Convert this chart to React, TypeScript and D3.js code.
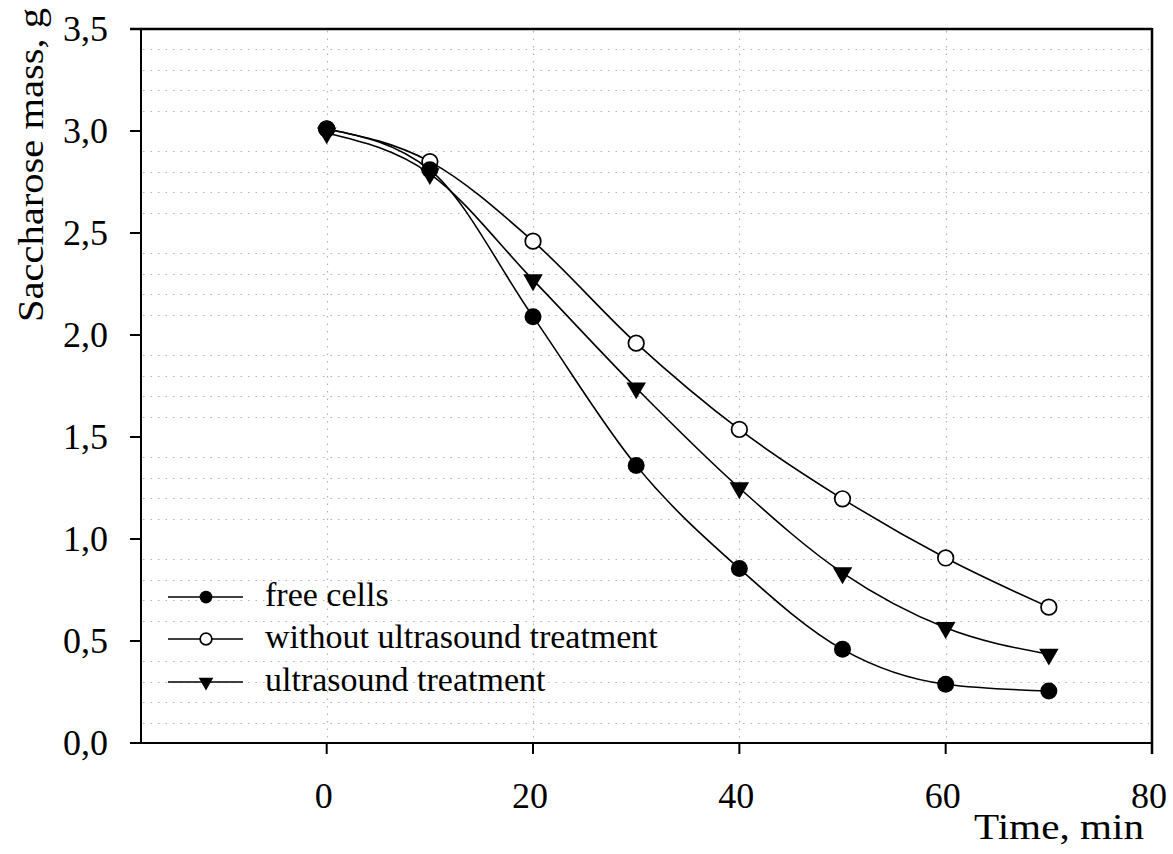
import React, { useEffect, useRef } from 'react';
import * as d3 from 'd3';

// time points, min
const times = [0, 10, 20, 30, 40, 50, 60, 70];
// saccharose mass, g
const freeCells = [3.01, 2.81, 2.09, 1.36, 0.855, 0.459, 0.288, 0.255];
const withoutUltrasound = [3.01, 2.85, 2.46, 1.96, 1.537, 1.197, 0.907, 0.666];
const ultrasound = [2.99, 2.79, 2.27, 1.74, 1.25, 0.834, 0.565, 0.435];

const seriesNames = ['free cells', 'without ultrasound treatment', 'ultrasound treatment'];
const xTicks = [0, 20, 40, 60, 80];
const yTicks = [0, 0.5, 1.0, 1.5, 2.0, 2.5, 3.0, 3.5];

const App = () => {
  const ref = useRef<SVGSVGElement>(null);

  useEffect(() => {
    const svg = d3.select(ref.current);
    svg.selectAll('*').remove();

    const left = 141, right = 1152, top = 29, bottom = 743;
    const font = '"Liberation Serif", "Times New Roman", serif';

    const x = d3.scaleLinear().domain([-18, 80]).range([left, right]);
    const y = d3.scaleLinear().domain([0, 3.5]).range([bottom, top]);

    // minor dotted grid (every 0.1 except the labelled values)
    const minor = d3.range(1, 35).filter(i => i % 5 !== 0).map(i => i / 10);
    svg.append('g')
      .selectAll('line')
      .data(minor)
      .join('line')
      .attr('x1', left + 2)
      .attr('x2', right - 3)
      .attr('y1', d => Math.round(y(d)) + 0.5)
      .attr('y2', d => Math.round(y(d)) + 0.5)
      .attr('stroke', '#b4b4b4')
      .attr('stroke-width', 1.2)
      .attr('stroke-dasharray', '1.5,6');

    svg.append('g')
      .selectAll('line')
      .data(xTicks.slice(0, -1))
      .join('line')
      .attr('x1', d => Math.round(x(d)) + 0.5)
      .attr('x2', d => Math.round(x(d)) + 0.5)
      .attr('y1', top + 2)
      .attr('y2', bottom - 2)
      .attr('stroke', '#b4b4b4')
      .attr('stroke-width', 1.2)
      .attr('stroke-dasharray', '1.5,6');

    // frame
    const frame = svg.append('g').attr('stroke', '#000').attr('fill', 'none');
    frame.append('line').attr('x1', left).attr('x2', left).attr('y1', top).attr('y2', bottom).attr('stroke-width', 2);
    frame.append('line').attr('x1', 130).attr('x2', right).attr('y1', bottom).attr('y2', bottom).attr('stroke-width', 2);
    frame.append('line').attr('x1', 130).attr('x2', right).attr('y1', top).attr('y2', top).attr('stroke-width', 2.5);
    frame.append('line').attr('x1', right).attr('x2', right).attr('y1', top - 1).attr('y2', bottom + 11).attr('stroke-width', 2.5);

    // y ticks
    frame.selectAll('.yt')
      .data(yTicks)
      .join('line')
      .attr('x1', 130)
      .attr('x2', left)
      .attr('y1', d => y(d))
      .attr('y2', d => y(d))
      .attr('stroke-width', 2);

    svg.append('g')
      .selectAll('text')
      .data(yTicks)
      .join('text')
      .attr('x', 108)
      .attr('y', d => y(d) + 12)
      .attr('text-anchor', 'end')
      .attr('font-family', font)
      .attr('font-size', 36)
      .text(d => d3.format('.1f')(d).replace('.', ','));

    // x ticks
    frame.selectAll('.xt')
      .data(xTicks)
      .join('line')
      .attr('x1', d => x(d))
      .attr('x2', d => x(d))
      .attr('y1', bottom)
      .attr('y2', bottom + 11)
      .attr('stroke-width', 2);

    svg.append('g')
      .selectAll('text')
      .data(xTicks)
      .join('text')
      .attr('x', d => x(d) - 3)
      .attr('y', 808)
      .attr('text-anchor', 'middle')
      .attr('font-family', font)
      .attr('font-size', 36)
      .text(d => d);

    // axis titles
    svg.append('text')
      .attr('transform', 'translate(43,165) rotate(-90)')
      .attr('text-anchor', 'middle')
      .attr('font-family', font)
      .attr('font-size', 36)
      .attr('textLength', 314)
      .attr('lengthAdjust', 'spacingAndGlyphs')
      .text('Saccharose mass, g');

    svg.append('text')
      .attr('x', 974)
      .attr('y', 839)
      .attr('font-family', font)
      .attr('font-size', 36)
      .attr('textLength', 170)
      .attr('lengthAdjust', 'spacingAndGlyphs')
      .text('Time, min');

    // series
    const series = [freeCells, withoutUltrasound, ultrasound];
    const line = d3.line<number>()
      .x((d, i) => x(times[i]))
      .y(d => y(d))
      .curve(d3.curveMonotoneX);

    series.forEach(values => {
      svg.append('path')
        .attr('d', line(values))
        .attr('fill', 'none')
        .attr('stroke', '#000')
        .attr('stroke-width', 1.6);
    });

    const tri = d3.symbol().type(d3.symbolTriangle);

    const drawMarker = (g, k, cx, cy, scale) => {
      if (k === 0) {
        g.append('circle').attr('cx', cx).attr('cy', cy).attr('r', 8.5 * scale).attr('fill', '#000');
      } else if (k === 1) {
        g.append('circle').attr('cx', cx).attr('cy', cy).attr('r', 7.8 * scale)
          .attr('fill', '#fff').attr('stroke', '#000').attr('stroke-width', 1.7);
      } else {
        g.append('path')
          .attr('d', tri.size(165 * scale * scale)())
          .attr('transform', `translate(${cx},${cy}) rotate(180)`)
          .attr('fill', '#000');
      }
    };

    const markers = svg.append('g');
    [1, 2, 0].forEach(k => {
      series[k].forEach((v, i) => drawMarker(markers, k, x(times[i]), y(v), 1));
    });

    // legend
    const legend = svg.append('g');
    const rowY = [597, 639, 682];
    seriesNames.forEach((name, k) => {
      legend.append('line')
        .attr('x1', 168).attr('x2', 243)
        .attr('y1', rowY[k]).attr('y2', rowY[k])
        .attr('stroke', '#000').attr('stroke-width', 1.6);
      drawMarker(legend, k, 206, rowY[k], 0.75);
      legend.append('text')
        .attr('x', 265)
        .attr('y', rowY[k] + 9)
        .attr('font-family', font)
        .attr('font-size', 34)
        .text(name);
    });
  }, []);

  return (
    <svg
      ref={ref}
      width={1173}
      height={854}
      style={{ position: 'absolute', left: 0, top: 0, background: '#fff' }}
    />
  );
};

export default App;
